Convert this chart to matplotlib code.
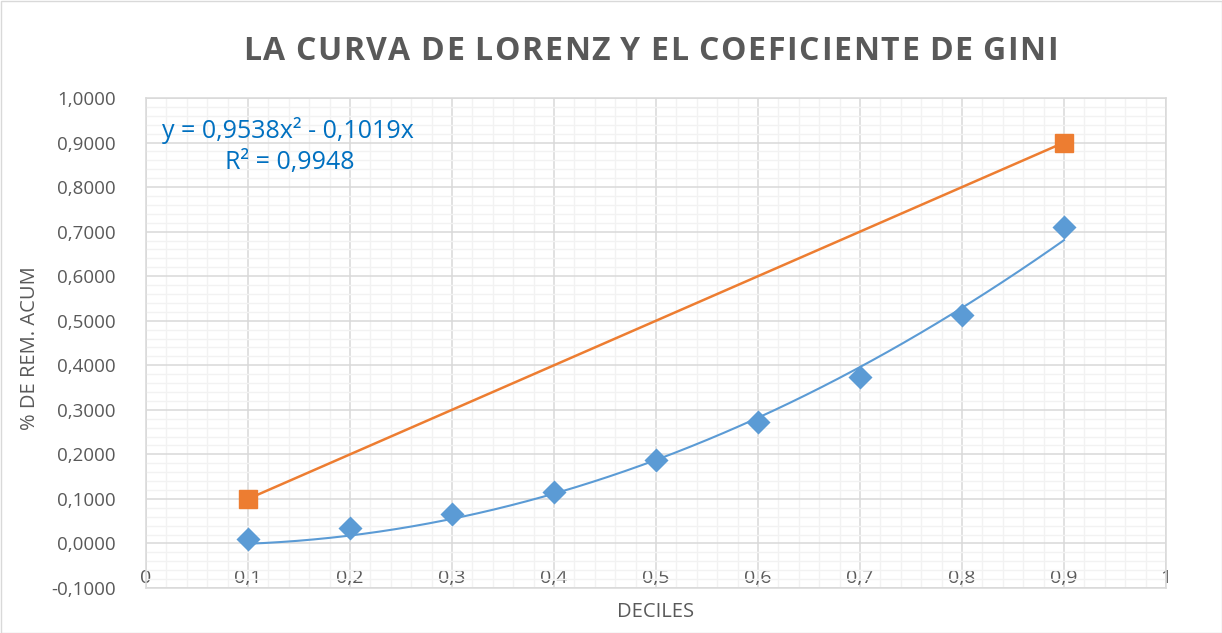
import matplotlib
matplotlib.use("Agg")
import matplotlib.pyplot as plt
from matplotlib.ticker import MultipleLocator, FuncFormatter
import numpy as np

deciles = [0.1, 0.2, 0.3, 0.4, 0.5, 0.6, 0.7, 0.8, 0.9]
rem_acum = [0.010, 0.035, 0.067, 0.116, 0.188, 0.273, 0.374, 0.513, 0.711]
equality_x = [0.1, 0.9]
equality_y = [0.1, 0.9]
trend_a = 0.9538
trend_b = -0.1019

title = "LA CURVA DE LORENZ Y EL COEFICIENTE DE GINI"
xlabel = "DECILES"
ylabel = "% DE REM. ACUM"
eq_text = "y = 0,9538x\u00b2 - 0,1019x"
r2_text = "R\u00b2 = 0,9948"

plt.rcParams['font.family'] = ['Open Sans', 'DejaVu Sans']

W, H = 1222, 633
fig = plt.figure(figsize=(W/100, H/100), dpi=100)
ax = fig.add_axes([146/W, 1-588/H, (1166-146)/W, (588-98)/H])

gray = '#595959'
blue = '#5B9BD5'
orange = '#ED7D31'

ax.set_xlim(0, 1)
ax.set_ylim(-0.1, 1.0)
ax.xaxis.set_major_locator(MultipleLocator(0.1))
ax.xaxis.set_minor_locator(MultipleLocator(0.02))
ax.yaxis.set_major_locator(MultipleLocator(0.1))
ax.yaxis.set_minor_locator(MultipleLocator(0.02))
ax.grid(which='major', color='#D9D9D9', linewidth=1.1)
ax.grid(which='minor', color='#F2F2F2', linewidth=1.0)
ax.set_axisbelow(True)
for s in ax.spines.values():
    s.set_color('#D9D9D9')
    s.set_linewidth(1.1)

def xfmt(v, p):
    if abs(v) < 1e-9:
        return '0'
    if abs(v - 1) < 1e-9:
        return '1'
    return ('%.1f' % v).replace('.', ',')

def yfmt(v, p):
    s = '%.4f' % v
    if s == '-0.0000':
        s = '0.0000'
    return s.replace('.', ',')

ax.xaxis.set_major_formatter(FuncFormatter(xfmt))
ax.yaxis.set_major_formatter(FuncFormatter(yfmt))
ax.tick_params(which='both', length=0)
ax.tick_params(axis='x', pad=-14, labelsize=14, labelcolor=gray)
ax.tick_params(axis='y', pad=22, labelsize=13.5, labelcolor=gray)

xs = np.linspace(min(deciles), max(deciles), 200)
ax.plot(xs, trend_a * xs**2 + trend_b * xs, color=blue, linewidth=1.5, zorder=3)
ax.plot(equality_x, equality_y, color=orange, linewidth=1.8, marker='s',
        markersize=13, zorder=4)
ax.scatter(deciles, rem_acum, marker='D', s=150, color=blue, zorder=5, linewidths=0)

fig.text(162/W, 1-130/H, eq_text, color='#0070C0', fontsize=18, va='center', ha='left')
fig.text(225/W, 1-162/H, r2_text, color='#0070C0', fontsize=18, va='center', ha='left')

# letter-spaced title, spanning x 243..1058 px
fig.canvas.draw()
renderer = fig.canvas.get_renderer()
tfs = 23
widths = []
for ch in title:
    t = fig.text(0, 0, ch if ch != ' ' else 'I', fontsize=tfs, fontweight='bold')
    bb = t.get_window_extent(renderer)
    widths.append(bb.width if ch != ' ' else bb.width * 0.6)
    t.remove()
total = sum(widths)
x0, x1 = 243, 1058
gap = (x1 - x0 - total) / (len(title) - 1)
x = x0
for ch, w in zip(title, widths):
    if ch != ' ':
        fig.text(x / W, 1 - 52 / H, ch, color=gray, fontsize=tfs, fontweight='bold',
                 ha='left', va='center')
    x += w + gap

fig.text(656/W, 1-612/H, xlabel, color=gray, fontsize=14.5, ha='center', va='center')
fig.text(30/W, 1-348/H, ylabel, color=gray, fontsize=14.5, ha='center', va='center',
         rotation=90)

border = plt.Rectangle((0.5/W, 0.5/H), 1-1/W, 1-1/H, transform=fig.transFigure,
                       fill=False, edgecolor='#D9D9D9', linewidth=1)
fig.patches.append(border)

fig.savefig('out.png', dpi=100)
